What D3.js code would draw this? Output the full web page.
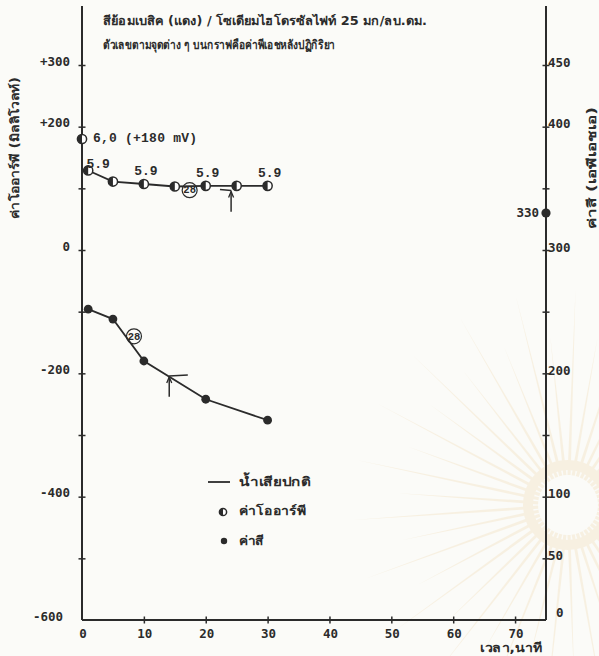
<!DOCTYPE html>
<html>
<head>
<meta charset="utf-8">
<script src="https://cdn.jsdelivr.net/npm/d3@7"></script>
<style>
  html, body { margin: 0; padding: 0; background: #fbfbf8; }
  svg { display: block; }
  text { font-family: "DejaVu Sans", "Noto Sans", sans-serif; fill: #2b2b2b; }
  .num { font-family: "DejaVu Sans Mono", "DejaVu Sans", monospace; font-weight: bold; }
  .typed { font-family: "Liberation Mono", "DejaVu Sans Mono", monospace; font-weight: bold; }
  .thai { font-weight: bold; }
</style>
</head>
<body>
<svg id="chart" width="599" height="656"></svg>
<script>
// ORP (mV) readings of the normal wastewater run, minutes after dosing
const orpTimes = [1, 5, 10, 15, 20, 25, 30];
const orpValues = [129, 111, 107, 103, 104, 104, 104];
// Colour (APHA units)
const colorTimes = [1, 5, 10, 20, 30];
const colorValues = [252, 244, 210, 179, 162];
// Initial readings before the reaction
const orpInitial = [0, 180];      // [minute, mV]
const colorInitial = [75, 330];   // plotted on the colour axis
// pH after reaction written beside the ORP curve
const phTimes = [1, 10, 20, 30];
const phTexts = ["5.9", "5.9", "5.9", "5.9"];
// Temperature notes (circled), in data units
const tempNoteTimes = [17.4, 8.4];
const tempNoteValues = [97, 230];
const tempNoteAxes = ["orp", "color"];
const tempNoteTexts = ["28", "28"];

// Tick values and labels
const xTicks = [0, 10, 20, 30, 40, 50, 60, 70];
const leftTicks = [-500, -400, -300, -200, -100, 0, 100, 200, 300];
const leftLabels = [300, 200, 0, -200, -400, -600];
const rightTicks = [50, 100, 150, 200, 250, 300, 350, 400, 450];
const rightLabels = [450, 400, 300, 200, 100, 50, 0];

const titleLines = [
  "สีย้อมเบสิค (แดง) / โซเดียมไฮโดรซัลไฟท์ 25 มก/ลบ.ดม.",
  "ตัวเลขตามจุดต่าง ๆ บนกราฟคือค่าพีเอชหลังปฏิกิริยา"
];
const leftTitle = "ค่าโออาร์พี (มิลลิโวลท์)";
const rightTitle = "ค่าสี (เอพีเอชเอ)";
const xTitle = "เวลา,นาที";
const legendTexts = ["น้ำเสียปกติ", "ค่าโออาร์พี", "ค่าสี"];

const ink = "#2b2b2b";
const svg = d3.select("#chart");

const x = d3.scaleLinear().domain([0, 75]).range([82, 546]);
const yL = d3.scaleLinear().domain([-600, 300]).range([620, 65]);
const yR = d3.scaleLinear().domain([0, 450]).range([620, 65]);

// ---- faint emblem watermark in the lower right ----
const wm = svg.append("g").attr("opacity", 0.28);
const wmCx = 568, wmCy = 505;
d3.range(0, 360, 8).forEach((a, i) => {
  const r0 = 30, r1 = i % 2 ? 170 : 215, w = 3;
  const rad = a * Math.PI / 180, radL = (a - w) * Math.PI / 180, radR = (a + w) * Math.PI / 180;
  wm.append("path")
    .attr("d", `M${wmCx + r0 * Math.cos(radL)},${wmCy + r0 * Math.sin(radL)}
                L${wmCx + r1 * Math.cos(rad)},${wmCy + r1 * Math.sin(rad)}
                L${wmCx + r0 * Math.cos(radR)},${wmCy + r0 * Math.sin(radR)}Z`)
    .attr("fill", "#f0d6a8");
});
wm.append("circle").attr("cx", wmCx).attr("cy", wmCy).attr("r", 40)
  .attr("fill", "none").attr("stroke", "#f0d6a8").attr("stroke-width", 10);

// ---- frame lines ----
const frame = svg.append("g").attr("stroke", ink).attr("stroke-width", 2).attr("fill", "none");
frame.append("line").attr("x1", x(0)).attr("x2", x(0)).attr("y1", 6).attr("y2", yL(-600));
frame.append("line").attr("x1", x(75)).attr("x2", x(75)).attr("y1", 6).attr("y2", yR(0));
frame.append("line").attr("x1", x(0)).attr("x2", x(75)).attr("y1", yL(-600)).attr("y2", yL(-600));

// crossing tick marks
function crossTicks(g, horizontal) {
  g.select(".domain").remove();
  g.selectAll(".tick line")
    .attr(horizontal ? "y1" : "x1", -3.5)
    .attr(horizontal ? "y2" : "x2", 3.5)
    .attr("stroke", ink).attr("stroke-width", 1.5);
  g.selectAll(".tick text").remove();
}
svg.append("g").attr("transform", `translate(${x(0)},0)`)
  .call(d3.axisLeft(yL).tickValues(leftTicks).tickSize(4))
  .call(g => crossTicks(g, false));
svg.append("g").attr("transform", `translate(${x(75)},0)`)
  .call(d3.axisRight(yR).tickValues(rightTicks).tickSize(4))
  .call(g => crossTicks(g, false));
svg.append("g").attr("transform", `translate(0,${yL(-600)})`)
  .call(d3.axisBottom(x).tickValues(xTicks.slice(1)).tickSize(4))
  .call(g => crossTicks(g, true));

// ---- tick labels ----
const fmtL = d => d > 0 ? "+" + d : String(d);
svg.append("g").selectAll("text").data(leftLabels).join("text")
  .attr("class", "num")
  .attr("x", d => d === -600 ? 63 : 70)
  .attr("y", d => yL(d) - 3)
  .attr("text-anchor", "end")
  .attr("dominant-baseline", "middle")
  .attr("font-size", 12.5)
  .text(fmtL);

svg.append("g").selectAll("text").data(rightLabels).join("text")
  .attr("class", "num")
  .attr("x", d => d === 0 ? 556 : x(75) + 2)
  .attr("y", d => d === 0 ? yR(0) - 7 : yR(d) - 2)
  .attr("dominant-baseline", "middle")
  .attr("font-size", 12.5)
  .text(d => d);

svg.append("g").selectAll("text").data(xTicks).join("text")
  .attr("class", "num")
  .attr("x", d => x(d) + 1)
  .attr("y", 634)
  .attr("text-anchor", "middle")
  .attr("dominant-baseline", "middle")
  .attr("font-size", 12.5)
  .text(d => d);

// ---- titles ----
const titleWidths = [324, 232];
svg.append("g").selectAll("text").data(titleLines).join("text")
  .attr("class", "thai")
  .attr("x", 103)
  .attr("y", (d, i) => 21 + i * 24)
  .attr("dominant-baseline", "middle")
  .attr("font-size", 12.5)
  .attr("textLength", (d, i) => titleWidths[i])
  .attr("lengthAdjust", "spacingAndGlyphs")
  .text(d => d);

svg.append("text")
  .attr("class", "thai")
  .attr("transform", "translate(15,148) rotate(-90)")
  .attr("text-anchor", "middle").attr("dominant-baseline", "middle")
  .attr("font-size", 12)
  .attr("textLength", 142).attr("lengthAdjust", "spacingAndGlyphs")
  .text(leftTitle);

svg.append("text")
  .attr("class", "thai")
  .attr("transform", "translate(592,168) rotate(-90)")
  .attr("text-anchor", "middle").attr("dominant-baseline", "middle")
  .attr("font-size", 12)
  .attr("textLength", 122).attr("lengthAdjust", "spacingAndGlyphs")
  .text(rightTitle);

svg.append("text")
  .attr("class", "thai")
  .attr("x", 511).attr("y", 648)
  .attr("text-anchor", "middle").attr("dominant-baseline", "middle")
  .attr("font-size", 12.5)
  .attr("textLength", 62).attr("lengthAdjust", "spacingAndGlyphs")
  .text(xTitle);

// ---- marks ----
function halfDot(g, cx, cy, r) {
  g.append("circle").attr("cx", cx).attr("cy", cy).attr("r", r)
    .attr("fill", "#fff").attr("stroke", ink).attr("stroke-width", 1.5);
  g.append("path")
    .attr("d", `M${cx},${cy - r} A${r},${r} 0 0 0 ${cx},${cy + r} Z`)
    .attr("fill", ink);
}

const orpData = orpTimes.map((t, i) => ({ t, v: orpValues[i] }));
const colorData = colorTimes.map((t, i) => ({ t, v: colorValues[i] }));

svg.append("path").datum(orpData)
  .attr("fill", "none").attr("stroke", ink).attr("stroke-width", 1.8)
  .attr("d", d3.line().x(d => x(d.t)).y(d => yL(d.v)));
svg.append("path").datum(colorData)
  .attr("fill", "none").attr("stroke", ink).attr("stroke-width", 1.8)
  .attr("d", d3.line().x(d => x(d.t)).y(d => yR(d.v)));

// end-point arrows
function arrowMark(g, t, yTop, yBot, hx2) {
  const ax = x(t);
  g.append("line").attr("x1", ax).attr("x2", ax).attr("y1", yTop).attr("y2", yBot)
    .attr("stroke", ink).attr("stroke-width", 1.5);
  g.append("path").attr("d", `M${ax - 2.5},${yTop + 6} L${ax},${yTop} L${ax + 2.5},${yTop + 6}`)
    .attr("fill", "none").attr("stroke", ink).attr("stroke-width", 1.3);
  g.append("line").attr("x1", ax).attr("x2", hx2).attr("y1", yTop - 1).attr("y2", yTop - 2)
    .attr("stroke", ink).attr("stroke-width", 1.5);
}
const ann = svg.append("g");
arrowMark(ann, 24.1, yL(95), yL(62), x(22.3));
arrowMark(ann, 14.1, yR(197), yR(181), x(17.1));

// temperature notes
tempNoteTimes.forEach((t, i) => {
  const cy = tempNoteAxes[i] === "orp" ? yL(tempNoteValues[i]) : yR(tempNoteValues[i]);
  ann.append("circle").attr("cx", x(t)).attr("cy", cy).attr("r", 7.5)
    .attr("fill", "none").attr("stroke", ink).attr("stroke-width", 1.2);
  ann.append("text").attr("class", "typed").attr("x", x(t)).attr("y", cy + 0.5)
    .attr("text-anchor", "middle").attr("dominant-baseline", "middle")
    .attr("font-size", 10.5)
    .text(tempNoteTexts[i]);
});

const dots = svg.append("g");
orpData.forEach(d => halfDot(dots, x(d.t), yL(d.v), 4.6));
halfDot(dots, x(orpInitial[0]), yL(orpInitial[1]), 4.6);
colorData.forEach(d => dots.append("circle")
  .attr("cx", x(d.t)).attr("cy", yR(d.v)).attr("r", 4.4).attr("fill", ink));
dots.append("circle").attr("cx", x(colorInitial[0])).attr("cy", yR(colorInitial[1]))
  .attr("r", 4.6).attr("fill", ink);

// value labels
svg.append("text").attr("class", "typed")
  .attr("x", x(orpInitial[0]) + 11).attr("y", yL(orpInitial[1]))
  .attr("dominant-baseline", "middle")
  .attr("font-size", 13)
  .attr("textLength", 104).attr("lengthAdjust", "spacing")
  .text(`6,0 (+${orpInitial[1]} mV)`);
svg.append("text").attr("class", "num")
  .attr("x", x(colorInitial[0]) - 7).attr("y", yR(colorInitial[1]))
  .attr("text-anchor", "end").attr("dominant-baseline", "middle")
  .attr("font-size", 12.5)
  .text(colorInitial[1]);

svg.append("g").selectAll("text").data(phTimes).join("text")
  .attr("class", "typed")
  .attr("x", (t, i) => i === 0 ? x(t) + 10 : x(t) + 2)
  .attr("y", (t, i) => yL(orpValues[orpTimes.indexOf(t)]) - (i === 0 ? 6 : 12))
  .attr("text-anchor", "middle").attr("dominant-baseline", "middle")
  .attr("font-size", 13)
  .text((t, i) => phTexts[i]);

// ---- legend ----
const lg = svg.append("g");
lg.append("line").attr("x1", 208).attr("x2", 230).attr("y1", 482).attr("y2", 482)
  .attr("stroke", ink).attr("stroke-width", 1.8);
halfDot(lg, 223, 512, 3.6);
lg.append("circle").attr("cx", 224).attr("cy", 541).attr("r", 3.2).attr("fill", ink);
const legendWidths = [72, 67, 25];
lg.selectAll("text").data(legendTexts).join("text")
  .attr("class", "thai")
  .attr("x", 239).attr("y", (d, i) => 482 + i * 29.5)
  .attr("dominant-baseline", "middle")
  .attr("font-size", 12.5)
  .attr("textLength", (d, i) => legendWidths[i])
  .attr("lengthAdjust", "spacingAndGlyphs")
  .text(d => d);
</script>
</body>
</html>
